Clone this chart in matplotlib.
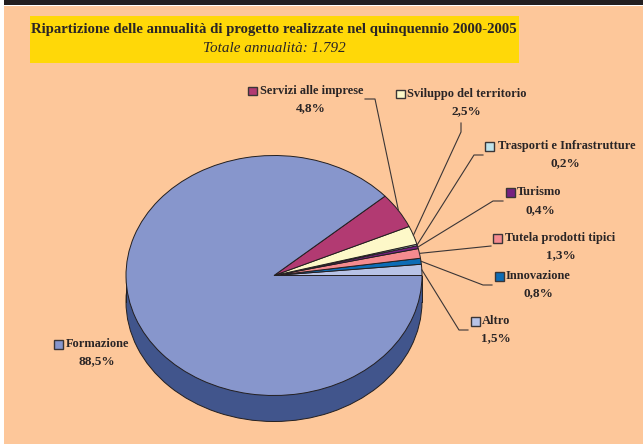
import numpy as np
import matplotlib
matplotlib.use('Agg')
import matplotlib.pyplot as plt
from matplotlib.patches import Rectangle

W, H = 643, 444
BG = '#FDC79A'
INK = '#2A2526'

# in drawing order, counter-clockwise from 3 o'clock
categories = ['Altro', 'Innovazione', 'Tutela prodotti tipici', 'Turismo',
              'Trasporti e Infrastrutture', 'Sviluppo del territorio',
              'Servizi alle imprese', 'Formazione']
values = [1.5, 0.8, 1.3, 0.4, 0.2, 2.5, 4.8, 88.5]
value_labels = ['1,5%', '0,8%', '1,3%', '0,4%', '0,2%', '2,5%', '4,8%', '88,5%']
colors = ['#B8C3E6', '#0D6CB5', '#F58B8F', '#762181', '#BFE3EA', '#FDF8C8',
          '#B23A72', '#8796CC']

# pie position in pixels
cx, cy, rx, ry, depth = 274, 275.5, 148, 120, 26

# swatch left, swatch centre y, text left, value centre x, value centre y
label_pos = [(471, 321, 482, 496, 338),
             (495, 276, 506, 538, 293),
             (493, 238, 505, 561, 255),
             (506, 192, 517, 540, 210),
             (485, 146, 498, 565, 163),
             (396, 94, 407, 466, 111),
             (248, 91, 260, 311, 108),
             (54, 344, 66, 97, 361)]

# leader elbows in pixels, from the label side towards the pie
leaders = [[(468, 330), (459, 330)],
           [(492, 285), (483, 285)],
           [(491, 246)],
           [(503, 201), (493, 201)],
           [(483, 155), (474, 155)],
           [(461, 123), (461, 132)],
           [(365, 99), (375, 99)],
           None]

plt.rcParams['font.family'] = ['Liberation Serif', 'DejaVu Serif']

fig = plt.figure(figsize=(W / 100, H / 100), dpi=100, facecolor='white')

# page, header and title box live in a pixel axes under the pie
bg = fig.add_axes([0, 0, 1, 1])
bg.set_xlim(0, W)
bg.set_ylim(H, 0)
bg.axis('off')
bg.add_patch(Rectangle((4, 6), W - 4, H - 6, fc=BG, ec='none'))
bg.add_patch(Rectangle((4, 0), W - 4, 5, fc='#231F20', ec='none'))
bg.add_patch(Rectangle((30, 16), 489, 47, fc='#FFD808', ec='none'))
bg.text(274, 29.5, 'Ripartizione delle annualità di progetto realizzate nel quinquennio 2000-2005',
        ha='center', va='center', fontsize=10.6, fontweight='bold', color=INK)
bg.text(274.5, 48, 'Totale annualità: 1.792', ha='center', va='center',
        fontsize=10.9, style='italic', color=INK)

# axes limits -1..1 map onto the pie's bounding ellipse
ax = fig.add_axes([(cx - rx) / W, 1 - (cy + ry + depth) / H, 2 * rx / W, (2 * ry + depth) / H])
ax.patch.set_alpha(0)
dy = depth / ry
edge = dict(edgecolor='#231F20', linewidth=0.7)

# extruded side: a dark disc lowered by the depth, joined to the top by a band
ax.pie([1], radius=1, center=(0, -dy), colors=['#41558C'], wedgeprops=edge)
ax.add_patch(Rectangle((-1, -dy), 2, dy, fc='#41558C', ec='none', zorder=1.5))
ax.plot([-1, -1], [0, -dy], color='#231F20', lw=0.7, zorder=1.6, clip_on=False)
ax.plot([1, 1], [0, -dy], color='#231F20', lw=0.7, zorder=1.6, clip_on=False)
ax.pie(values, radius=1, center=(0, 0), colors=colors, startangle=0,
       counterclock=True, wedgeprops=dict(edge, zorder=2))
ax.set_aspect('auto')
ax.set_xlim(-1, 1)
ax.set_ylim(-1 - dy, 1)
ax.axis('off')

# labels and leaders on top, again in pixels
top = fig.add_axes([0, 0, 1, 1])
top.set_xlim(0, W)
top.set_ylim(H, 0)
top.axis('off')
top.patch.set_alpha(0)

mids = np.cumsum(values) - np.array(values) / 2
for name, val, col, pos, elbow, mid in zip(categories, value_labels, colors, label_pos, leaders, mids):
    sx, sy, tx, vx, vy = pos
    top.add_patch(Rectangle((sx, sy - 4), 8.5, 8.5, fc=col, ec='#3A3536', lw=1.0))
    top.text(tx, sy, name, ha='left', va='center', fontsize=8.9, fontweight='bold', color=INK)
    top.text(vx, vy, val, ha='center', va='center', fontsize=9.5, fontweight='bold', color=INK)
    if elbow:
        ang = np.deg2rad(mid * 3.6)
        pts = elbow + [(cx + rx * np.cos(ang), cy - ry * np.sin(ang))]
        top.plot([p[0] for p in pts], [p[1] for p in pts], color='#3A3536', lw=0.8)

fig.savefig('out.png', dpi=100, facecolor='white')
